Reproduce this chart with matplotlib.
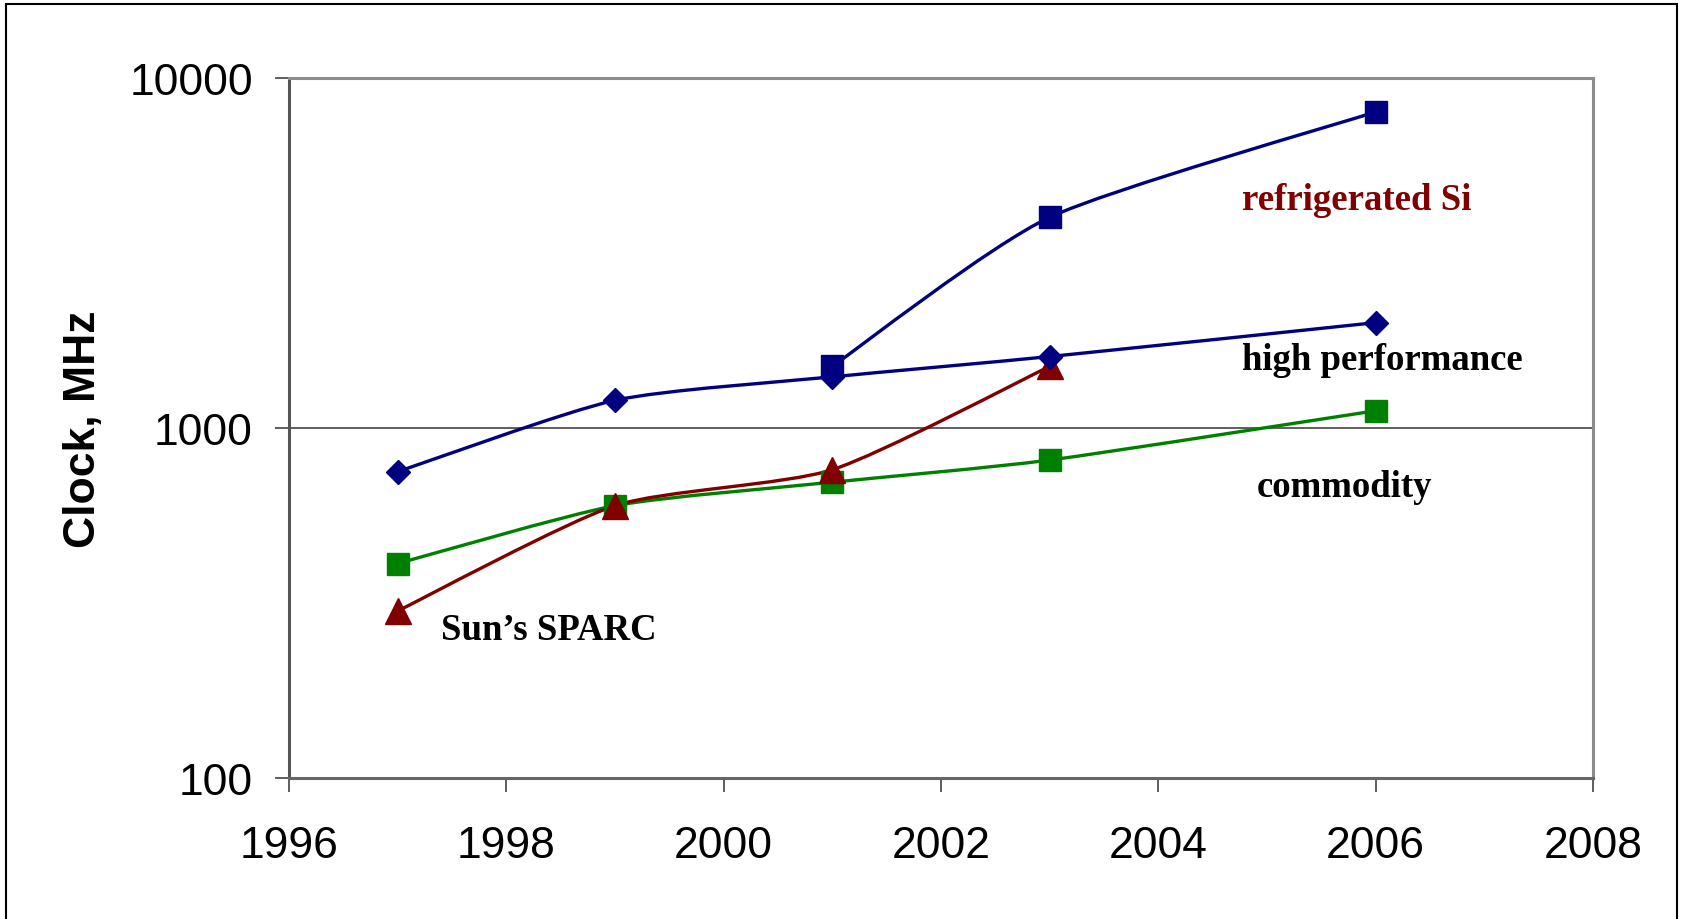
import numpy as np
import matplotlib.pyplot as plt
from matplotlib.path import Path
from matplotlib.patches import PathPatch, Rectangle
from matplotlib.ticker import NullLocator

# clock rates, MHz
years_hp = [1997, 1999, 2001, 2003, 2006]
high_perf = [750, 1200, 1400, 1600, 2000]

years_ref = [2001, 2003, 2006]
refrigerated = [1500, 4000, 8000]

years_com = [1997, 1999, 2001, 2003, 2006]
commodity = [410, 600, 700, 810, 1120]

years_sparc = [1997, 1999, 2001, 2003]
sparc = [300, 600, 760, 1500]

xticks = [1996, 1998, 2000, 2002, 2004, 2006, 2008]
yticks = [100, 1000, 10000]

NAVY = '#000080'
GREEN = '#008000'
DARKRED = '#800000'

SANS = ['Liberation Sans', 'DejaVu Sans']
SERIF = ['Liberation Serif', 'DejaVu Serif']


def smooth_path(xs, ys, t=0.11):
    # bezier "smoothed line", tangents worked out in (year, log10 MHz) space
    p = np.column_stack([np.asarray(xs, float), np.log10(ys)])
    ext = np.vstack([p[0], p, p[-1]])
    verts = [p[0]]
    codes = [Path.MOVETO]
    for i in range(len(p) - 1):
        c1 = ext[i + 1] + (ext[i + 2] - ext[i]) * t
        c2 = ext[i + 2] - (ext[i + 3] - ext[i + 1]) * t
        verts += [c1, c2, p[i + 1]]
        codes += [Path.CURVE4] * 3
    verts = np.array(verts)
    verts[:, 1] = 10 ** verts[:, 1]
    return Path(verts, codes)


fig = plt.figure(figsize=(16.82, 9.2), dpi=100)
ax = fig.add_axes([289 / 1682, 1 - 779 / 920, (1593 - 289) / 1682, 700 / 920])
ax.set_yscale('log')
ax.set_xlim(1996, 2008)
ax.set_ylim(100, 10000)

series = [
    (years_com, commodity, GREEN, 's', 16.5),
    (years_sparc, sparc, DARKRED, '^', 18.5),
    (years_hp, high_perf, NAVY, 'D', 12.5),
    (years_ref, refrigerated, NAVY, 's', 16.5),
]
for xs, ys, col, mk, ms in series:
    ax.add_patch(PathPatch(smooth_path(xs, ys), facecolor='none', edgecolor=col,
                           lw=2.4, zorder=3, capstyle='round', joinstyle='round'))
    ax.plot(xs, ys, ls='none', marker=mk, ms=ms, color=col, mec=col, zorder=4)

ax.set_xticks(xticks)
ax.set_xticklabels([str(x) for x in xticks], family=SANS)
ax.set_yticks(yticks)
ax.set_yticklabels([str(v) for v in yticks], family=SANS)
ax.yaxis.set_minor_locator(NullLocator())
ax.tick_params(axis='both', direction='out', length=10, width=1.1,
               color='#333333', labelsize=32)
ax.tick_params(axis='x', pad=24)
ax.tick_params(axis='y', pad=16)
ax.grid(axis='y', which='major', color='#333333', lw=1.1)

ax.spines['left'].set_color('#555555')
ax.spines['bottom'].set_color('#666666')
ax.spines['top'].set_color('#8c8c8c')
ax.spines['right'].set_color('#8c8c8c')
for s in ax.spines.values():
    s.set_linewidth(2.2)

fig.text(84 / 1682, 1 - 429 / 920, 'Clock, MHz', rotation=90, ha='center',
         va='center', fontsize=32, fontweight='bold', family=SANS)

ax.text(2004.77, 4226, 'refrigerated Si', color=DARKRED, fontsize=26.5,
        fontweight='bold', family=SERIF, va='baseline')
ax.text(2004.77, 1475, 'high performance', color='black', fontsize=26.5,
        fontweight='bold', family=SERIF, va='baseline')
ax.text(2004.91, 640, 'commodity', color='black', fontsize=26.5,
        fontweight='bold', family=SERIF, va='baseline')
ax.text(1997.40, 249, 'Sun\u2019s SPARC', color='black', fontsize=26.5,
        fontweight='bold', family=SERIF, va='baseline')

# thin black frame round the whole chart
fig.add_artist(Rectangle((6 / 1682, -0.02), (1677 - 6) / 1682, 1 - 5 / 920 + 0.02,
                         transform=fig.transFigure, fill=False, ec='black', lw=1.5))

fig.savefig('out.png', dpi=100)
